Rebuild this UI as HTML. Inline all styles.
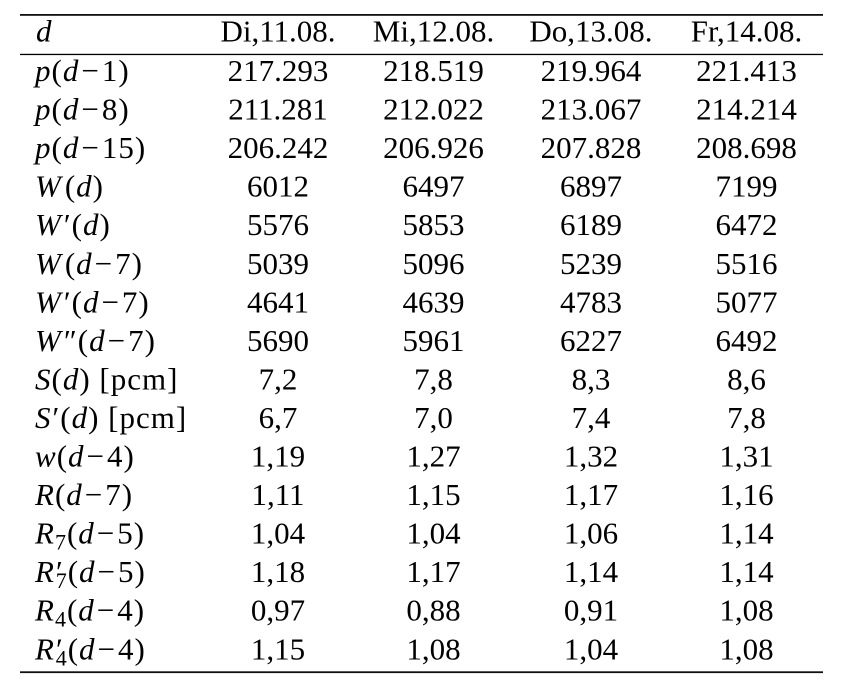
<!DOCTYPE html>
<html>
<head>
<meta charset="utf-8">
<style>
  html, body { margin: 0; padding: 0; background: #ffffff; }
  body { width: 842px; height: 682px; overflow: hidden; }
  svg { display: block; }
  text { font-family: "Liberation Serif", "DejaVu Serif", serif; font-size: 31px; fill: #000; }
  .i { font-style: italic; }
  .lab { letter-spacing: 1px; }
  .c { text-anchor: middle; }
</style>
</head>
<body>
<svg width="842" height="682" viewBox="0 0 842 682" xmlns="http://www.w3.org/2000/svg" font-family="Liberation Serif, DejaVu Serif, serif">
  <!-- rules -->
  <rect x="20" y="14" width="803" height="1.8" fill="#111"/>
  <rect x="20" y="53.8" width="803" height="1.3" fill="#000"/>
  <rect x="20" y="671.3" width="803" height="1.8" fill="#111"/>

  <!-- header -->
  <text x="36" y="41.5" class="i">d</text>
  <text x="278" y="41.5" class="c">Di,11.08.</text>
  <text x="433.5" y="41.5" class="c">Mi,12.08.</text>
  <text x="591" y="41.5" class="c">Do,13.08.</text>
  <text x="746.5" y="41.5" class="c">Fr,14.08.</text>

  <!-- row labels -->
  <text x="35" y="81" class="lab"><tspan class="i">p</tspan>(<tspan class="i">d</tspan><tspan dx="2">−</tspan><tspan dx="2">1)</tspan></text>
  <text x="35" y="119.55" class="lab"><tspan class="i">p</tspan>(<tspan class="i">d</tspan><tspan dx="2">−</tspan><tspan dx="2">8)</tspan></text>
  <text x="35" y="158.1" class="lab"><tspan class="i">p</tspan>(<tspan class="i">d</tspan><tspan dx="2">−</tspan><tspan dx="2">15)</tspan></text>
  <text x="35" y="196.65" class="lab"><tspan class="i">W</tspan><tspan dx="3">(</tspan><tspan class="i">d</tspan>)</text>
  <text x="35" y="235.2" class="lab"><tspan class="i">W</tspan><tspan dx="2">′(</tspan><tspan class="i">d</tspan>)</text>
  <text x="35" y="273.75" class="lab"><tspan class="i">W</tspan><tspan dx="3">(</tspan><tspan class="i">d</tspan><tspan dx="2">−</tspan><tspan dx="2">7)</tspan></text>
  <text x="35" y="312.3" class="lab"><tspan class="i">W</tspan><tspan dx="2">′(</tspan><tspan class="i">d</tspan><tspan dx="2">−</tspan><tspan dx="2">7)</tspan></text>
  <text x="35" y="350.85" class="lab"><tspan class="i">W</tspan><tspan dx="2">″(</tspan><tspan class="i">d</tspan><tspan dx="2">−</tspan><tspan dx="2">7)</tspan></text>
  <text x="35" y="389.4" class="lab"><tspan class="i">S</tspan>(<tspan class="i">d</tspan>) [pcm]</text>
  <text x="35" y="427.95" class="lab"><tspan class="i">S</tspan><tspan dx="1">′(</tspan><tspan class="i">d</tspan>) [pcm]</text>
  <text x="35" y="466.5" class="lab"><tspan class="i">w</tspan>(<tspan class="i">d</tspan><tspan dx="2">−</tspan><tspan dx="2">4)</tspan></text>
  <text x="35" y="505.05" class="lab"><tspan class="i">R</tspan>(<tspan class="i">d</tspan><tspan dx="2">−</tspan><tspan dx="2">7)</tspan></text>
  <text x="35" y="543.6" class="lab"><tspan class="i">R</tspan><tspan font-size="22" dy="6">7</tspan><tspan dy="-6">(</tspan><tspan class="i">d</tspan><tspan dx="2">−</tspan><tspan dx="2">5)</tspan></text>
  <text x="35" y="582.15" class="lab"><tspan class="i">R</tspan><tspan dx="1">′</tspan><tspan font-size="22" dx="-8" dy="6">7</tspan><tspan dy="-6">(</tspan><tspan class="i">d</tspan><tspan dx="2">−</tspan><tspan dx="2">5)</tspan></text>
  <text x="35" y="620.7" class="lab"><tspan class="i">R</tspan><tspan font-size="22" dy="6">4</tspan><tspan dy="-6">(</tspan><tspan class="i">d</tspan><tspan dx="2">−</tspan><tspan dx="2">4)</tspan></text>
  <text x="35" y="659.25" class="lab"><tspan class="i">R</tspan><tspan dx="1">′</tspan><tspan font-size="22" dx="-8" dy="6">4</tspan><tspan dy="-6">(</tspan><tspan class="i">d</tspan><tspan dx="2">−</tspan><tspan dx="2">4)</tspan></text>

  <!-- column 1 -->
  <g>
    <text x="278" y="81" class="c">217.293</text>
    <text x="278" y="119.55" class="c">211.281</text>
    <text x="278" y="158.1" class="c">206.242</text>
    <text x="278" y="196.65" class="c">6012</text>
    <text x="278" y="235.2" class="c">5576</text>
    <text x="278" y="273.75" class="c">5039</text>
    <text x="278" y="312.3" class="c">4641</text>
    <text x="278" y="350.85" class="c">5690</text>
    <text x="278" y="389.4" class="c">7,2</text>
    <text x="278" y="427.95" class="c">6,7</text>
    <text x="278" y="466.5" class="c">1,19</text>
    <text x="278" y="505.05" class="c">1,11</text>
    <text x="278" y="543.6" class="c">1,04</text>
    <text x="278" y="582.15" class="c">1,18</text>
    <text x="278" y="620.7" class="c">0,97</text>
    <text x="278" y="659.25" class="c">1,15</text>
  </g>

  <!-- column 2 -->
  <g>
    <text x="433.5" y="81" class="c">218.519</text>
    <text x="433.5" y="119.55" class="c">212.022</text>
    <text x="433.5" y="158.1" class="c">206.926</text>
    <text x="433.5" y="196.65" class="c">6497</text>
    <text x="433.5" y="235.2" class="c">5853</text>
    <text x="433.5" y="273.75" class="c">5096</text>
    <text x="433.5" y="312.3" class="c">4639</text>
    <text x="433.5" y="350.85" class="c">5961</text>
    <text x="433.5" y="389.4" class="c">7,8</text>
    <text x="433.5" y="427.95" class="c">7,0</text>
    <text x="433.5" y="466.5" class="c">1,27</text>
    <text x="433.5" y="505.05" class="c">1,15</text>
    <text x="433.5" y="543.6" class="c">1,04</text>
    <text x="433.5" y="582.15" class="c">1,17</text>
    <text x="433.5" y="620.7" class="c">0,88</text>
    <text x="433.5" y="659.25" class="c">1,08</text>
  </g>

  <!-- column 3 -->
  <g>
    <text x="591" y="81" class="c">219.964</text>
    <text x="591" y="119.55" class="c">213.067</text>
    <text x="591" y="158.1" class="c">207.828</text>
    <text x="591" y="196.65" class="c">6897</text>
    <text x="591" y="235.2" class="c">6189</text>
    <text x="591" y="273.75" class="c">5239</text>
    <text x="591" y="312.3" class="c">4783</text>
    <text x="591" y="350.85" class="c">6227</text>
    <text x="591" y="389.4" class="c">8,3</text>
    <text x="591" y="427.95" class="c">7,4</text>
    <text x="591" y="466.5" class="c">1,32</text>
    <text x="591" y="505.05" class="c">1,17</text>
    <text x="591" y="543.6" class="c">1,06</text>
    <text x="591" y="582.15" class="c">1,14</text>
    <text x="591" y="620.7" class="c">0,91</text>
    <text x="591" y="659.25" class="c">1,04</text>
  </g>

  <!-- column 4 -->
  <g>
    <text x="746.5" y="81" class="c">221.413</text>
    <text x="746.5" y="119.55" class="c">214.214</text>
    <text x="746.5" y="158.1" class="c">208.698</text>
    <text x="746.5" y="196.65" class="c">7199</text>
    <text x="746.5" y="235.2" class="c">6472</text>
    <text x="746.5" y="273.75" class="c">5516</text>
    <text x="746.5" y="312.3" class="c">5077</text>
    <text x="746.5" y="350.85" class="c">6492</text>
    <text x="746.5" y="389.4" class="c">8,6</text>
    <text x="746.5" y="427.95" class="c">7,8</text>
    <text x="746.5" y="466.5" class="c">1,31</text>
    <text x="746.5" y="505.05" class="c">1,16</text>
    <text x="746.5" y="543.6" class="c">1,14</text>
    <text x="746.5" y="582.15" class="c">1,14</text>
    <text x="746.5" y="620.7" class="c">1,08</text>
    <text x="746.5" y="659.25" class="c">1,08</text>
  </g>
</svg>
</body>
</html>
